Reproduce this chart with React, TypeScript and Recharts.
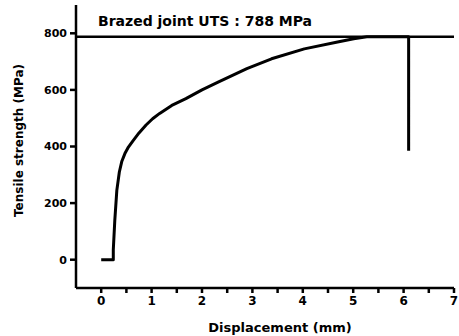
import { LineChart, Line, XAxis, YAxis, ReferenceLine, Label } from 'recharts';

// tensile test curve
const displacement = [0, 0.24, 0.24, 0.27, 0.31, 0.36, 0.41, 0.47, 0.54, 0.63, 0.75, 0.89, 1.02, 1.16, 1.4, 1.68, 2.0, 2.33, 2.89, 3.38, 4.03, 4.69, 5.01, 5.27, 6.1, 6.1];
const strength = [0, 0, 35, 140, 245, 310, 348, 375, 398, 420, 448, 476, 498, 517, 545, 569, 600, 628, 675, 710, 745, 769, 781, 788, 788, 385];

const xTicks = [0, 0.5, 1, 1.5, 2, 2.5, 3, 3.5, 4, 4.5, 5, 5.5, 6, 6.5, 7];
const yTicks = [0, 200, 400, 600, 800];
const uts = 788;
const title = 'Brazed joint UTS : 788 MPa';

const data = displacement.map((d, i) => ({ d, s: strength[i] }));

const FONT = '"DejaVu Sans", sans-serif';

export default function App() {
  return (
    <div style={{ position: 'absolute', left: 0, top: 0, background: '#fff' }}>
      <LineChart width={459} height={336} data={data} margin={{ top: 5, right: 5, left: 26, bottom: 0 }}>
        <XAxis
          type="number"
          dataKey="d"
          domain={[-0.5, 7]}
          ticks={xTicks}
          interval={0}
          allowDataOverflow
          tickFormatter={(v: number) => (Number.isInteger(v) ? String(v) : '')}
          height={48}
          stroke="#000"
          strokeWidth={2.5}
          tickSize={5}
          tickMargin={3}
          tick={{ fill: '#000', fontSize: 12, fontWeight: 700, fontFamily: FONT }}
        >
          <Label
            content={(p: any) => {
              const vb = p.viewBox || {};
              return (
                <text x={vb.x + vb.width / 2 + 15} y={vb.y + vb.height - 4} textAnchor="middle" fontFamily={FONT} fontWeight={700} fontSize={13} fill="#000">
                  Displacement (mm)
                </text>
              );
            }}
          />
        </XAxis>
        <YAxis
          type="number"
          domain={[-100, 900]}
          ticks={yTicks}
          interval={0}
          width={50}
          stroke="#000"
          strokeWidth={2.5}
          tickSize={6}
          tickMargin={3}
          tick={{ fill: '#000', fontSize: 11, fontWeight: 700, fontFamily: FONT }}
        >
          <Label
            content={(p: any) => {
              const vb = p.viewBox || {};
              const cx = vb.x - 7;
              const cy = vb.y + vb.height / 2 - 6;
              return (
                <text x={cx} y={cy} transform={`rotate(-90 ${cx} ${cy})`} textAnchor="middle" dominantBaseline="central" fontFamily={FONT} fontWeight={700} fontSize={12} fill="#000">
                  Tensile strength (MPa)
                </text>
              );
            }}
          />
        </YAxis>
        <ReferenceLine y={uts} stroke="#000" strokeWidth={2.5}>
          <Label
            content={(p: any) => {
              const vb = p.viewBox || {};
              return (
                <text x={vb.x + 22} y={vb.y - 11} fontFamily={FONT} fontWeight={700} fontSize={14} fill="#000">
                  {title}
                </text>
              );
            }}
          />
        </ReferenceLine>
        <Line type="linear" dataKey="s" stroke="#000" strokeWidth={3} strokeLinejoin="round" dot={false} isAnimationActive={false} />
      </LineChart>
    </div>
  );
}
